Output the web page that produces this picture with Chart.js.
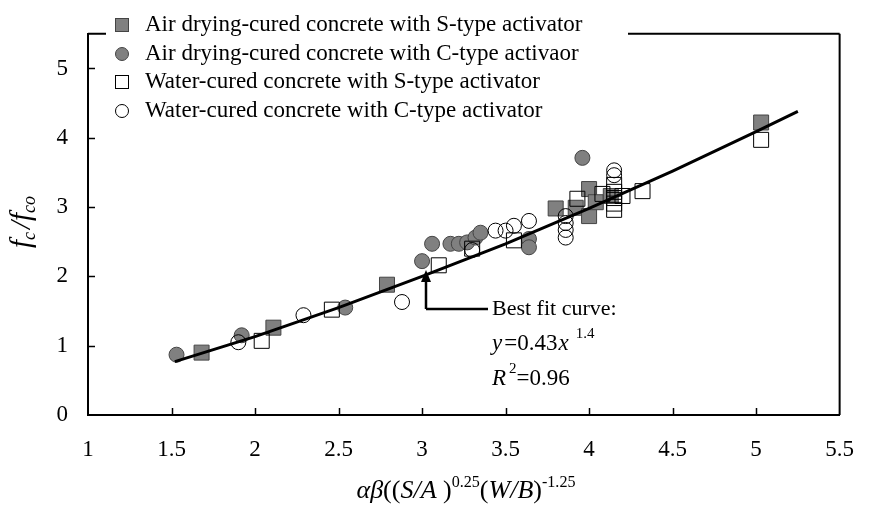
<!DOCTYPE html>
<html>
<head>
<meta charset="utf-8">
<script src="https://cdn.jsdelivr.net/npm/chart.js@4.4.1/dist/chart.umd.min.js"></script>
<style>
html,body{margin:0;padding:0;background:#fff;}
#wrap{width:875px;height:509px;position:relative;}
</style>
</head>
<body>
<div id="wrap"><canvas id="c" width="875" height="509"></canvas></div>
<script>
// ---- data ----
const airS_x = [1.68, 2.11, 2.79, 3.80, 3.92, 4.00, 4.00, 4.04, 4.13, 5.03];
const airS_y = [0.90, 1.26, 1.88, 2.98, 2.99, 3.26, 2.87, 3.07, 3.16, 4.22];

const airC_x = [1.53, 1.92, 2.54, 3.00, 3.06, 3.17, 3.22, 3.27, 3.32, 3.35, 3.64, 3.64, 3.96];
const airC_y = [0.87, 1.15, 1.55, 2.22, 2.47, 2.47, 2.47, 2.49, 2.56, 2.63, 2.54, 2.42, 3.71];

const watS_x = [2.04, 2.46, 3.10, 3.30, 3.55, 3.93, 4.08, 4.15, 4.15, 4.15, 4.15, 4.15, 4.20, 4.32, 5.03];
const watS_y = [1.07, 1.52, 2.16, 2.40, 2.52, 3.12, 3.19, 3.32, 3.22, 3.13, 3.05, 2.96, 3.16, 3.23, 3.97];

const watC_x = [1.90, 2.29, 2.88, 3.30, 3.44, 3.50, 3.55, 3.64, 3.86, 3.86, 3.86, 3.86, 4.15, 4.15];
const watC_y = [1.05, 1.44, 1.63, 2.38, 2.66, 2.66, 2.73, 2.80, 2.87, 2.77, 2.67, 2.56, 3.53, 3.46];

const fit_x = [1.52, 2.0, 2.5, 3.0, 3.5, 4.0, 4.5, 5.0, 5.25];
const fit_y = [0.77, 1.13, 1.55, 2.00, 2.47, 2.98, 3.52, 4.09, 4.38];

const xTicks = [1, 1.5, 2, 2.5, 3, 3.5, 4, 4.5, 5, 5.5];
const yTicks = [0, 1, 2, 3, 4, 5];

const seriesNames = [
  "Air drying-cured concrete with S-type activator",
  "Air drying-cured concrete with C-type activaor",
  "Water-cured concrete with S-type activator",
  "Water-cured concrete with C-type activator"
];

function pts(xs, ys){ return xs.map((x,i)=>({x:x, y:ys[i]})); }

const SERIF = '"Liberation Serif","DejaVu Serif",serif';
const GRAY = '#808080';

function drawRich(ctx, parts, x, y, size){
  let w = 0;
  const meas = parts.map(p=>{
    const fs = (p.sup||p.sub) ? size*0.62 : size;
    ctx.font = (p.it?'italic ':'') + fs + 'px ' + SERIF;
    const m = ctx.measureText(p.t).width + (p.gap||0);
    w += m;
    return {fs, m};
  });
  let cx = x - w/2;
  ctx.textBaseline = 'alphabetic';
  ctx.textAlign = 'left';
  parts.forEach((p,i)=>{
    const fs = meas[i].fs;
    ctx.font = (p.it?'italic ':'') + fs + 'px ' + SERIF;
    let yy = y;
    if (p.sup) yy = y - size*0.42;
    if (p.sub) yy = y + size*0.18;
    ctx.fillText(p.t, cx, yy);
    cx += meas[i].m;
  });
}

const overlay = {
  id:'overlay',
  afterDraw(chart){
    const ctx = chart.ctx;
    const a = chart.chartArea;
    const xs = chart.scales.x, ys = chart.scales.y;
    ctx.save();
    ctx.strokeStyle = '#000';
    ctx.fillStyle = '#000';
    // inner tick marks
    ctx.lineWidth = 1.5;
    xTicks.forEach(v=>{
      if (v===1 || v===5.5) return;
      const px = Math.round(xs.getPixelForValue(v))+0.5;
      ctx.beginPath(); ctx.moveTo(px, a.bottom); ctx.lineTo(px, a.bottom-7); ctx.stroke();
    });
    yTicks.forEach(v=>{
      if (v===0) return;
      const py = Math.round(ys.getPixelForValue(v))+0.5;
      ctx.beginPath(); ctx.moveTo(a.left, py); ctx.lineTo(a.left+7, py); ctx.stroke();
    });
    // box: right and top (top broken by legend)
    ctx.lineWidth = 2;
    ctx.beginPath();
    ctx.moveTo(a.right, a.bottom); ctx.lineTo(a.right, a.top);
    ctx.moveTo(a.right, a.top); ctx.lineTo(628, a.top);
    ctx.moveTo(a.left, a.top); ctx.lineTo(106, a.top);
    ctx.stroke();

    // legend
    const rows = [25, 54, 82, 111];
    const mx = 122;
    rows.forEach((ry,i)=>{
      ctx.lineWidth = 1;
      ctx.strokeStyle = '#000';
      if (i===0 || i===2){
        ctx.fillStyle = i===0 ? GRAY : '#fff';
        ctx.fillRect(mx-6.5, ry-6.5, 13, 13);
        ctx.strokeStyle = i===0 ? '#444' : '#000';
        ctx.strokeRect(mx-6.5, ry-6.5, 13, 13);
      } else {
        ctx.beginPath(); ctx.arc(mx, ry, 6.5, 0, Math.PI*2);
        ctx.fillStyle = i===1 ? GRAY : '#fff';
        ctx.fill();
        ctx.strokeStyle = i===1 ? '#444' : '#000';
        ctx.stroke();
      }
      ctx.fillStyle = '#000';
      ctx.font = '23px ' + SERIF;
      ctx.textAlign = 'left';
      ctx.textBaseline = 'middle';
      ctx.fillText(seriesNames[i], 145, ry);
    });

    // annotation arrow
    ctx.strokeStyle = '#000';
    ctx.lineWidth = 2.5;
    const ax = 426;
    ctx.beginPath();
    ctx.moveTo(ax, 309); ctx.lineTo(ax, 278);
    ctx.moveTo(ax, 309); ctx.lineTo(488, 309);
    ctx.stroke();
    ctx.beginPath();
    ctx.moveTo(ax, 270); ctx.lineTo(ax-5, 282); ctx.lineTo(ax+5, 282); ctx.closePath();
    ctx.fillStyle = '#000'; ctx.fill();

    ctx.font = '22px ' + SERIF;
    ctx.textAlign = 'left';
    ctx.textBaseline = 'middle';
    ctx.fillText('Best fit curve:', 492, 309);
    // y = 0.43x^1.4
    ctx.textBaseline = 'alphabetic';
    let cx = 492;
    const base2 = 350;
    ctx.font = 'italic 23px ' + SERIF; ctx.fillText('y', cx, base2); cx += ctx.measureText('y').width + 2;
    ctx.font = '23px ' + SERIF; ctx.fillText('=0.43', cx, base2); cx += ctx.measureText('=0.43').width + 1;
    ctx.font = 'italic 23px ' + SERIF; ctx.fillText('x', cx, base2); cx += ctx.measureText('x').width + 7;
    ctx.font = '15px ' + SERIF; ctx.fillText('1.4', cx, base2-12);
    cx = 492;
    const base3 = 385;
    ctx.font = 'italic 23px ' + SERIF; ctx.fillText('R', cx, base3); cx += ctx.measureText('R').width + 3;
    ctx.font = '15px ' + SERIF; ctx.fillText('2', cx, base3-12); cx += ctx.measureText('2').width;
    ctx.font = '23px ' + SERIF; ctx.fillText('=0.96', cx, base3);

    // x axis title
    ctx.fillStyle = '#000';
    drawRich(ctx, [
      {t:'αβ', it:true}, {t:'((', it:false}, {t:'S/A ', it:true}, {t:')', it:false},
      {t:'0.25', sup:true}, {t:'(', it:false}, {t:'W/B', it:true}, {t:')', it:false},
      {t:'-1.25', sup:true}
    ], 466, 498, 26);

    // y axis title (rotated)
    ctx.save();
    ctx.translate(30, 222);
    ctx.rotate(-Math.PI/2);
    drawRich(ctx, [
      {t:'f', it:true}, {t:'c', it:true, sub:true, gap:3}, {t:'/', it:true},
      {t:'f', it:true}, {t:'co', it:true, sub:true}
    ], 0, 0, 29);
    ctx.restore();

    ctx.restore();
  }
};

const ptBase = {type:'scatter', showLine:false, pointBorderWidth:1, pointHoverRadius:0};

new Chart(document.getElementById('c'), {
  type:'scatter',
  data:{
    datasets:[
      {type:'line', label:'fit', data:pts(fit_x, fit_y), borderColor:'#000', borderWidth:3,
       pointRadius:0, fill:false, tension:0, order:0},
      Object.assign({label:seriesNames[0], data:pts(airS_x, airS_y), pointStyle:'rect', pointRadius:10.6,
        backgroundColor:GRAY, borderColor:'#444', order:4}, ptBase),
      Object.assign({label:seriesNames[1], data:pts(airC_x, airC_y), pointStyle:'circle', pointRadius:7.5,
        backgroundColor:GRAY, borderColor:'#444', order:3}, ptBase),
      Object.assign({label:seriesNames[2], data:pts(watS_x, watS_y), pointStyle:'rect', pointRadius:10.6,
        backgroundColor:'rgba(255,255,255,0)', borderColor:'#000', order:2}, ptBase),
      Object.assign({label:seriesNames[3], data:pts(watC_x, watC_y), pointStyle:'circle', pointRadius:7.5,
        backgroundColor:'rgba(255,255,255,0)', borderColor:'#000', order:1}, ptBase)
    ]
  },
  options:{
    responsive:false,
    animation:false,
    events:[],
    layout:{padding:{left:0, right:33, top:19, bottom:0}},
    plugins:{legend:{display:false}, tooltip:{enabled:false}},
    scales:{
      x:{
        type:'linear', min:1, max:5.5,
        afterFit(s){ s.height = 94; },
        afterBuildTicks(s){ s.ticks = xTicks.map(v=>({value:v})); },
        grid:{display:false, drawTicks:false},
        border:{display:true, color:'#000', width:2},
        ticks:{padding:21, color:'#000', font:{family:SERIF, size:23}, maxRotation:0,
               callback:(v)=>String(v)}
      },
      y:{
        type:'linear', min:0, max:5.5,
        afterFit(s){ s.width = 88; },
        afterBuildTicks(s){ s.ticks = yTicks.map(v=>({value:v})); },
        grid:{display:false, drawTicks:false},
        border:{display:true, color:'#000', width:2},
        ticks:{padding:20, color:'#000', font:{family:SERIF, size:23}, callback:(v)=>String(v)}
      }
    }
  },
  plugins:[overlay]
});
</script>
</body>
</html>
